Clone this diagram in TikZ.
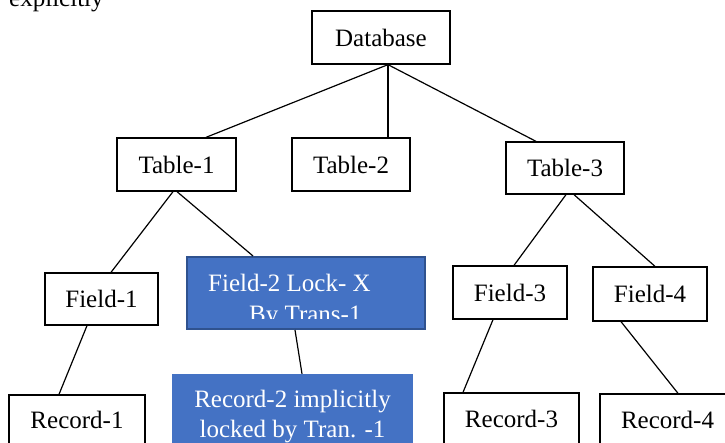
\documentclass[tikz,border=0pt]{standalone}
\usepackage{fontspec}
\setmainfont{Liberation Serif}
\definecolor{boxblue}{HTML}{4472C4}
\definecolor{edgeblue}{HTML}{2F528F}
\tikzset{
  plainbox/.style={draw=black, line width=1.3pt, fill=white, inner sep=0pt, minimum height=53pt},
  bluebox/.style={fill=boxblue, inner sep=0pt},
  conn/.style={draw=black, line width=1.2pt},
  wtext/.style={text=white, inner sep=0pt},
  btext/.style={text=black, inner sep=0pt}
}
\begin{document}
\begin{tikzpicture}[x=1pt, y=-1pt, font=\fontsize{25}{30}\selectfont]
\useasboundingbox (0,0) rectangle (725,443);
\clip (0,0) rectangle (725,443);
% top cropped text
\node[btext, anchor=base west] (expl) at (9,7) {explicitly};
% nodes
\node[plainbox, minimum width=138pt] (db) at (381,37.5) {Database};
\node[plainbox, minimum width=119pt] (t1) at (176.5,164.5) {Table-1};
\node[plainbox, minimum width=118pt] (t2) at (351,164.5) {Table-2};
\node[plainbox, minimum width=118pt, minimum height=52pt] (t3) at (565,168) {Table-3};
\node[plainbox, minimum width=113pt, minimum height=52pt] (f1) at (101.5,299) {Field-1};
\node[plainbox, minimum width=114pt] (f3) at (510,292.5) {Field-3};
\node[plainbox, minimum width=114pt, minimum height=54pt] (f4) at (650,294) {Field-4};
\node[plainbox, minimum width=136pt, minimum height=50pt] (r1) at (77,420) {Record-1};
\node[plainbox, minimum width=135pt, minimum height=52pt] (r3) at (511.5,419) {Record-3};
\node[plainbox, minimum width=135pt, minimum height=52pt] (r4) at (667.5,420) {Record-4};
% blue boxes
\node[bluebox, draw=edgeblue, line width=2pt, minimum width=238pt, minimum height=72pt] (f2) at (306,293) {};
\node[bluebox, minimum width=241pt, minimum height=74pt] (r2) at (292.5,411) {};
% blue box texts
\node[wtext, anchor=base west] (f2a) at (208,292) {Field-2 Lock- X};
\begin{scope}
\clip (186,256) rectangle (426,319);
\node[wtext, anchor=base west] (f2b) at (249,323) {By Trans-1};
\end{scope}
\node[wtext, anchor=base] (r2a) at (292.5,407) {Record-2 implicitly};
\node[wtext, anchor=base] (r2b) at (292.5,437) {locked by Tran. -1};
% connectors
\draw[conn] ([xshift=7pt]db.south) -- ([xshift=29.5pt]t1.north);
\draw[conn] ([xshift=7pt]db.south) -- ([xshift=37pt]t2.north);
\draw[conn] ([xshift=7pt]db.south) -- ([xshift=-29pt]t3.north);
\draw[conn] ([xshift=-3.5pt]t1.south) -- ([xshift=9.5pt]f1.north);
\draw[conn] ([xshift=0.5pt]t1.south) -- ([xshift=-53pt]f2.north);
\draw[conn] ([xshift=-14.5pt]f1.south) -- ([xshift=-18pt]r1.north);
\draw[conn] ([xshift=-11pt]f2.south) -- ([xshift=9.5pt]r2.north);
\draw[conn] ([xshift=1pt]t3.south) -- ([xshift=4pt]f3.north);
\draw[conn] ([xshift=9pt]t3.south) -- ([xshift=5pt]f4.north);
\draw[conn] ([xshift=-17pt]f3.south) -- ([xshift=-48.5pt]r3.north);
\draw[conn] ([xshift=-29pt]f4.south) -- ([xshift=10.5pt]r4.north);
\end{tikzpicture}
\end{document}
